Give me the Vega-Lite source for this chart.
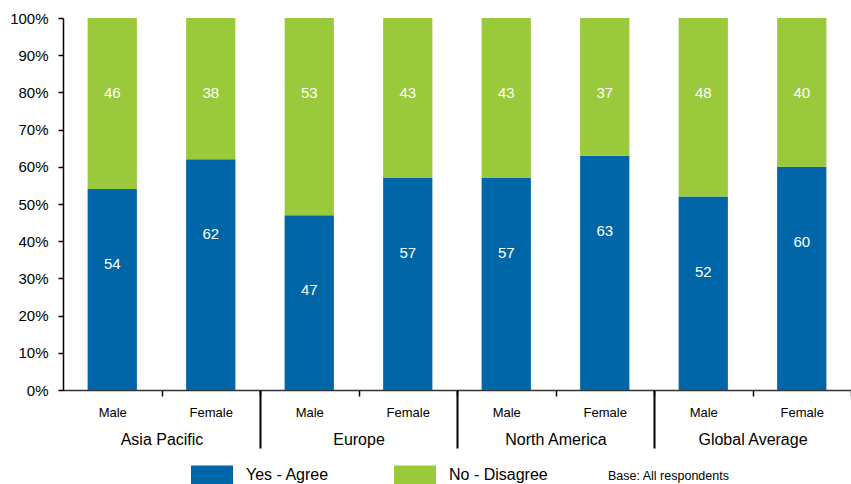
{
  "$schema": "https://vega.github.io/schema/vega-lite/v6.json",
  "autosize": "none",
  "width": 788,
  "height": 372,
  "padding": {"left": 63, "top": 18, "right": 0, "bottom": 94},
  "background": "white",
  "config": {
    "font": "Liberation Sans",
    "view": {"stroke": null}
  },
  "data": {
    "values": [
      {"region": "Asia Pacific", "gender": "Male", "answer": "Yes - Agree", "value": 54},
      {"region": "Asia Pacific", "gender": "Male", "answer": "No - Disagree", "value": 46},
      {"region": "Asia Pacific", "gender": "Female", "answer": "Yes - Agree", "value": 62},
      {"region": "Asia Pacific", "gender": "Female", "answer": "No - Disagree", "value": 38},
      {"region": "Europe", "gender": "Male", "answer": "Yes - Agree", "value": 47},
      {"region": "Europe", "gender": "Male", "answer": "No - Disagree", "value": 53},
      {"region": "Europe", "gender": "Female", "answer": "Yes - Agree", "value": 57},
      {"region": "Europe", "gender": "Female", "answer": "No - Disagree", "value": 43},
      {"region": "North America", "gender": "Male", "answer": "Yes - Agree", "value": 57},
      {"region": "North America", "gender": "Male", "answer": "No - Disagree", "value": 43},
      {"region": "North America", "gender": "Female", "answer": "Yes - Agree", "value": 63},
      {"region": "North America", "gender": "Female", "answer": "No - Disagree", "value": 37},
      {"region": "Global Average", "gender": "Male", "answer": "Yes - Agree", "value": 52},
      {"region": "Global Average", "gender": "Male", "answer": "No - Disagree", "value": 48},
      {"region": "Global Average", "gender": "Female", "answer": "Yes - Agree", "value": 60},
      {"region": "Global Average", "gender": "Female", "answer": "No - Disagree", "value": 40}
    ]
  },
  "transform": [
    {"calculate": "datum.region + '|' + datum.gender", "as": "bar"}
  ],
  "encoding": {
    "y": {
      "field": "value",
      "type": "quantitative",
      "stack": "zero",
      "scale": {"domain": [0, 100]},
      "axis": {
        "title": null,
        "values": [0, 10, 20, 30, 40, 50, 60, 70, 80, 90, 100],
        "labelExpr": "datum.value + '%'",
        "labelFontSize": 15,
        "labelColor": "#000000",
        "labelPadding": 10,
        "tickSize": 5,
        "tickWidth": 1.5,
        "tickColor": "#000000",
        "domainColor": "#000000",
        "domainWidth": 1.5,
        "grid": false
      }
    }
  },
  "layer": [
    {
      "mark": {"type": "bar"},
      "encoding": {
        "x": {
          "field": "bar",
          "type": "nominal",
          "sort": null,
          "scale": {"paddingInner": 0.5, "paddingOuter": 0.25},
          "axis": {
            "title": null,
            "orient": "bottom",
            "labelExpr": "isString(datum.value) ? split(datum.value, '|')[1] : ''",
            "labelAngle": 0,
            "labelFontSize": 13,
            "labelColor": "#000000",
            "labelPadding": 10,
            "labelOffset": -49.25,
            "tickBand": "center",
            "tickOffset": 49.25,
            "tickSize": 6,
            "tickWidth": 1.5,
            "tickColor": "#000000",
            "domainColor": "#333333",
            "domainWidth": 1.5
          }
        },
        "color": {
          "field": "answer",
          "type": "nominal",
          "sort": ["Yes - Agree", "No - Disagree"],
          "scale": {"domain": ["Yes - Agree", "No - Disagree"], "range": ["#0066A8", "#9BC93C"]},
          "legend": {
            "title": "Base: All respondents",
            "titleOrient": "right",
            "titleAnchor": "middle",
            "titleBaseline": "top",
            "titleFontSize": 12.5,
            "titleFontWeight": "normal",
            "titleColor": "#000000",
            "titlePadding": 60,
            "orient": "none",
            "legendX": 128,
            "legendY": 436,
            "direction": "horizontal",
            "symbolType": "M-1,-0.48H1V0.48H-1Z",
            "symbolSize": 1764,
            "symbolStrokeWidth": 0,
            "symbolOpacity": 1,
            "labelFontSize": 16,
            "labelColor": "#000000",
            "labelOffset": 13,
            "columnPadding": 64
          }
        },
        "order": {"field": "answer", "type": "nominal", "sort": "descending"}
      }
    },
    {
      "mark": {"type": "text", "color": "white", "fontSize": 15, "baseline": "middle", "dy": 75},
      "encoding": {
        "x": {
          "field": "bar",
          "type": "nominal",
          "sort": null,
          "axis": {
            "title": null,
            "orient": "bottom",
            "domain": false,
            "labelExpr": "isString(datum.value) && indexof(datum.value, '|Female') >= 0 ? split(datum.value, '|')[0] : ''",
            "labelAngle": 0,
            "labelOffset": -98.5,
            "labelFontSize": 16,
            "labelColor": "#000000",
            "labelPadding": -17,
            "tickBand": "center",
            "tickOffset": 49.25,
            "tickSize": 58,
            "tickWidth": 2,
            "tickColor": "#000000",
            "tickOpacity": {
              "condition": {"test": "isString(datum.value) && indexof(datum.value, '|Female') >= 0 && datum.value != 'Global Average|Female'", "value": 1},
              "value": 0
            }
          }
        },
        "text": {"field": "value", "type": "quantitative"},
        "detail": {"field": "answer", "type": "nominal"},
        "order": {"field": "answer", "type": "nominal", "sort": "descending"}
      }
    }
  ],
  "resolve": {"axis": {"x": "independent"}}
}
